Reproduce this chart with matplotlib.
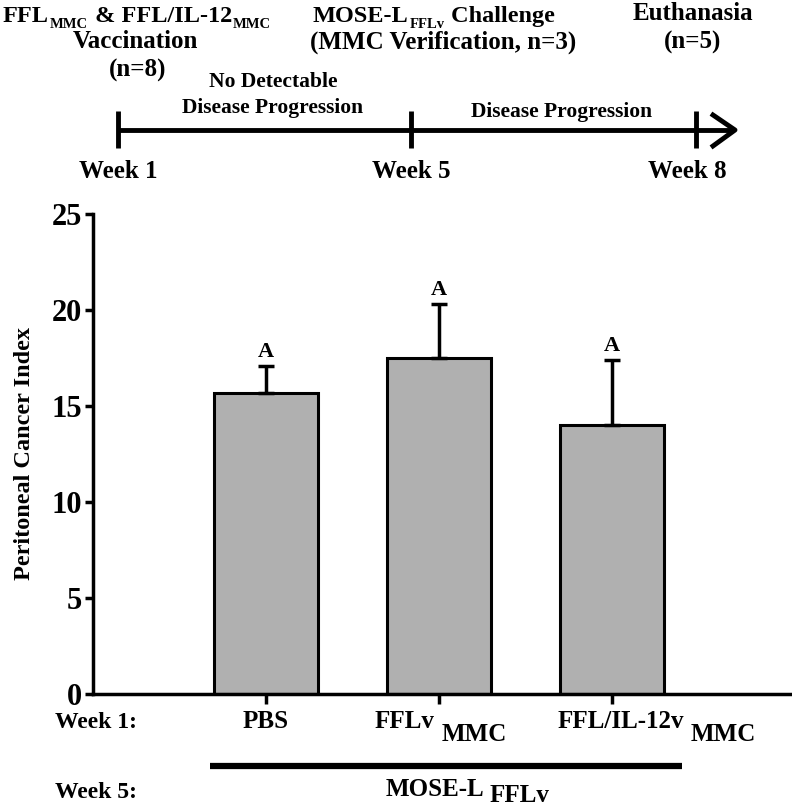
#!/usr/bin/env python3
import numpy as np
import matplotlib

matplotlib.use("Agg")
import matplotlib.pyplot as plt
import matplotlib.transforms as mtransforms

# ========================================================================
# Data
# ========================================================================
groups = ["PBS", "FFLv", "FFL/IL-12v"]
group_subs = ["", "MMC", "MMC"]
pci_mean = [15.7, 17.5, 14.0]
pci_err = [1.4, 2.8, 3.4]
stat_letters = ["A", "A", "A"]
yticks = [0, 5, 10, 15, 20, 25]

timeline_weeks = ["Week 1", "Week 5", "Week 8"]

# ========================================================================
# Style
# ========================================================================
plt.rcParams["font.family"] = ["Liberation Serif", "DejaVu Serif"]
plt.rcParams["font.weight"] = "bold"
bar_color = "#B0B0B0"
W, H = 792, 810

fig = plt.figure(figsize=(W / 100, H / 100), dpi=100)

# overlay in pixel coordinates for the annotations
ov = fig.add_axes([0, 0, 1, 1])
ov.set_xlim(0, W)
ov.set_ylim(H, 0)
ov.axis("off")


def chain(x, y, parts, ha="left"):
    # parts: list of (text, fontsize, dy in points); drawn left to right
    t = ov.text(x, y, parts[0][0], ha=ha, va="baseline", fontsize=parts[0][1])
    for s, fsz, dy in parts[1:]:
        t = ov.annotate(s, xy=(1, 0), xycoords=t, xytext=(0.5, dy),
                        textcoords="offset points", ha="left", va="bottom",
                        fontsize=fsz)
    return t


# ========================================================================
# Bar chart
# ========================================================================
ax = fig.add_axes([93 / W, 1 - 694 / H, (790 - 93) / W, (694 - 214) / H])
ax.patch.set_alpha(0)
xpos = np.arange(1, len(groups) + 1)
ax.bar(xpos, pci_mean, width=0.6, color=bar_color, edgecolor="black", lw=2.2, zorder=2)
ax.errorbar(
    xpos,
    pci_mean,
    yerr=[np.zeros(len(pci_err)), pci_err],
    fmt="none",
    ecolor="black",
    elinewidth=2.5,
    capsize=6,
    capthick=2.5,
    zorder=3,
)
for x, m, e, s in zip(xpos, pci_mean, pci_err, stat_letters):
    ax.annotate(
        s,
        (x, m + e),
        xytext=(0, 3),
        textcoords="offset points",
        ha="center",
        va="bottom",
        fontsize=16,
        fontweight="bold",
    )

ax.set_xlim(0, 4.03)
ax.set_ylim(0, 25)
ax.set_yticks(yticks)
ax.set_yticklabels([str(t) for t in yticks], fontsize=22, fontweight="bold")
ax.set_xticks(xpos)
ax.set_xticklabels([])
for side in ["top", "right"]:
    ax.spines[side].set_visible(False)
for side in ["left", "bottom"]:
    ax.spines[side].set_linewidth(2.5)
ax.tick_params(axis="y", direction="out", length=6, width=2.5, pad=2)
ax.tick_params(axis="x", direction="out", length=7, width=2.5)
ax.set_ylabel("Peritoneal Cancer Index", fontsize=17.5, fontweight="bold")
ax.yaxis.set_label_coords(-0.083, 0.5)

# category labels below the axis
trans = mtransforms.blended_transform_factory(ax.transData, ov.transData)
label_dx = [0.0, -0.2, 0.05]
for x, g, sub, dx in zip(xpos, groups, group_subs, label_dx):
    t = ax.text(x + dx, 722, g, transform=trans, ha="center", va="center",
                fontsize=18, fontweight="bold")
    if sub:
        ov.annotate(sub, xy=(1, 0), xycoords=t, xytext=(5, -9),
                    textcoords="offset points", ha="left", va="bottom",
                    fontsize=18, fontweight="bold")

ov.text(55, 722, "Week 1:", ha="left", va="center", fontsize=17, fontweight="bold")
ov.text(55, 792, "Week 5:", ha="left", va="center", fontsize=17, fontweight="bold")
ov.plot([210, 682], [766, 766], color="black", lw=4.5, solid_capstyle="butt")
t = ov.text(435, 789, "MOSE-L", ha="center", va="center", fontsize=18, fontweight="bold")
ov.annotate("FFLv", xy=(1, 0), xycoords=t, xytext=(4, -5),
            textcoords="offset points", ha="left", va="bottom",
            fontsize=18, fontweight="bold")

# ========================================================================
# Timeline
# ========================================================================
tl_y = 130
tl_x = [118, 411, 696]
ov.plot([tl_x[0], 733], [tl_y, tl_y], color="black", lw=3.5, solid_capstyle="butt")
for x in tl_x:
    ov.plot([x, x], [111, 148], color="black", lw=3.5, solid_capstyle="butt")
ov.plot([713, 735, 713], [115, tl_y, 146], color="black", lw=3.5)
for x, w in zip(tl_x, timeline_weeks):
    ov.text(x + (0 if x < 600 else -9), 172, w, ha="center", va="center",
            fontsize=18, fontweight="bold")

fs = 18
chain(3, 22, [("FFL", 17.5, 0), ("MMC", 10.5, -3), (" & FFL/IL-12", 17.5, 3),
              ("MMC", 10.5, -3)])
ov.text(135, 42, "Vaccination", ha="center", va="center", fontsize=fs)
ov.text(138, 70, "(n=8)", ha="center", va="center", fontsize=fs)
ov.text(273, 82, "No Detectable", ha="center", va="center", fontsize=15.5)
ov.text(273, 108, "Disease Progression", ha="center", va="center", fontsize=15.5)
chain(313, 22, [("MOSE-L", 17.5, 0), ("FFLv", 10.5, -3), (" Challenge", 17.5, 3)])
ov.text(443, 42, "(MMC Verification, n=3)", ha="center", va="center", fontsize=fs)
ov.text(562, 112, "Disease Progression", ha="center", va="center", fontsize=15.5)
ov.text(693, 14, "Euthanasia", ha="center", va="center", fontsize=fs)
ov.text(693, 42, "(n=5)", ha="center", va="center", fontsize=fs)

fig.savefig("out.png", dpi=100)
